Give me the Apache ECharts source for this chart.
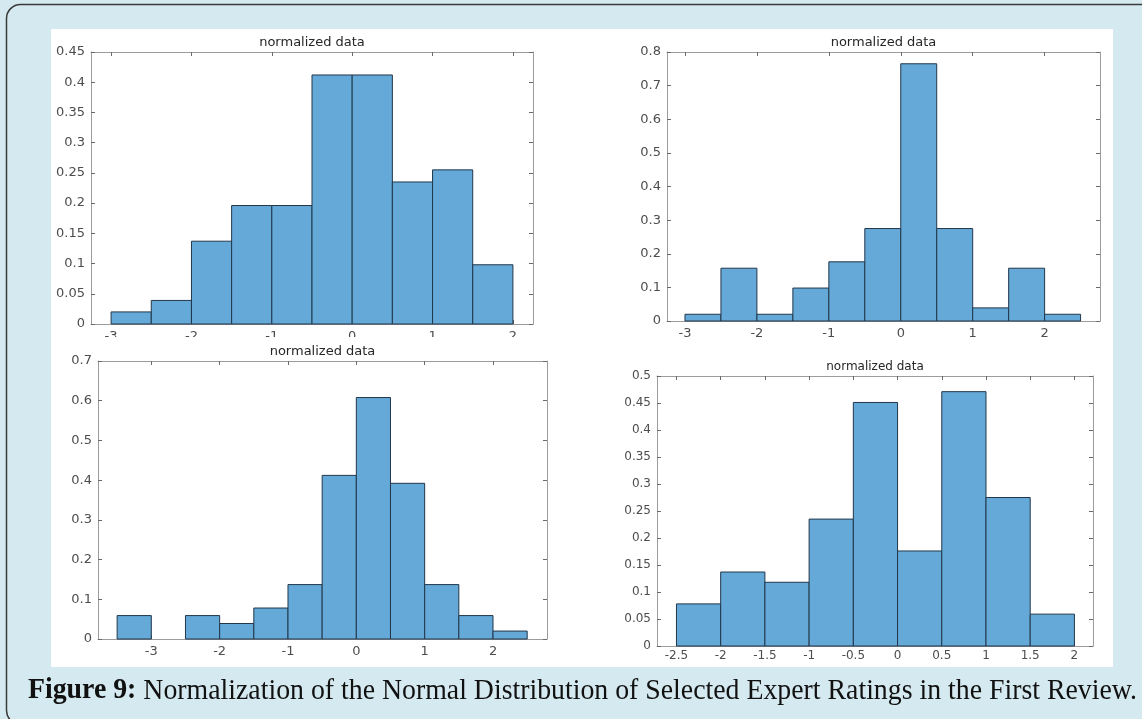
<!DOCTYPE html>
<html>
<head>
<meta charset="utf-8">
<script src="https://cdn.jsdelivr.net/npm/echarts@6/dist/echarts.min.js"></script>
<style>
  html, body { margin: 0; padding: 0; background: #d5eaf0; }
  #chart { width: 1142px; height: 719px; }
</style>
</head>
<body>
<div id="chart"></div>
<script>
// All four histograms use bins of the same width
const BIN_WIDTH = 0.5;

// Top left: probability density per bin
const binStartA = -3;
const densityA = [0.02, 0.039, 0.137, 0.196, 0.196, 0.412, 0.412, 0.235, 0.255, 0.098];
const xTicksA = [-3, -2, -1, 0, 1, 2];

// Top right
const binStartB = -3;
const densityB = [0.02, 0.157, 0.02, 0.098, 0.176, 0.275, 0.765, 0.275, 0.039, 0.157, 0.02];
const xTicksB = [-3, -2, -1, 0, 1, 2];

// Bottom left
const binStartC = -3.5;
const densityC = [0.059, 0, 0.059, 0.039, 0.078, 0.137, 0.412, 0.608, 0.392, 0.137, 0.059, 0.02];
const xTicksC = [-3, -2, -1, 0, 1, 2];

// Bottom right
const binStartD = -2.5;
const densityD = [0.078, 0.137, 0.118, 0.235, 0.451, 0.176, 0.471, 0.275, 0.059];
const xTicksD = [-2.5, -2, -1.5, -1, -0.5, 0, 0.5, 1, 1.5, 2];

const panelTitle = 'normalized data';
const captionLead = 'Figure 9:';
const captionRest = ' Normalization of the Normal Distribution of Selected Expert Ratings in the First Review.';

// ---- styling ----
const BAR_FILL = '#64a9d8';
const BAR_EDGE = '#22374a';
const BOX_COLOR = '#9c9c9c';
const TICK_COLOR = '#6a6a6a';
const LABEL_COLOR = '#4d4d4d';
const TITLE_COLOR = '#262626';
const UI_FONT = '"DejaVu Sans", sans-serif';
const CAPTION_FONT = '"Liberation Serif", serif';

const panels = [
  { start: binStartA, values: densityA, xTicks: xTicksA, xMin: -3.25, xMax: 2.25, yMax: 0.45, yStep: 0.05,
    box: { left: 91, top: 52, width: 442, height: 272 }, fontSize: 13, titleY: 43 },
  { start: binStartB, values: densityB, xTicks: xTicksB, xMin: -3.25, xMax: 2.77, yMax: 0.8, yStep: 0.1,
    box: { left: 667, top: 52, width: 433, height: 269 }, fontSize: 13, titleY: 43 },
  { start: binStartC, values: densityC, xTicks: xTicksC, xMin: -3.78, xMax: 2.79, yMax: 0.7, yStep: 0.1,
    box: { left: 98, top: 361, width: 449, height: 278 }, fontSize: 13, titleY: 352 },
  { start: binStartD, values: densityD, xTicks: xTicksD, xMin: -2.72, xMax: 2.21, yMax: 0.5, yStep: 0.05,
    box: { left: 657, top: 376, width: 436, height: 270 }, fontSize: 12, titleY: 367 }
];

const grids = [], xAxes = [], yAxes = [], series = [], graphics = [];

// Outer frame and white figure panel
graphics.push({
  type: 'rect', z: -20, silent: true,
  shape: { x: 6.5, y: 4.5, width: 1300, height: 720, r: 14 },
  style: { fill: '#d5eaf0', stroke: '#3a3a3a', lineWidth: 1.5 }
});
graphics.push({
  type: 'rect', z: -10, silent: true,
  shape: { x: 51, y: 29, width: 1062, height: 638 },
  style: { fill: '#ffffff' }
});

panels.forEach((p, i) => {
  grids.push({ left: p.box.left, top: p.box.top, width: p.box.width, height: p.box.height });
  const tickStyle = { show: true, inside: true, length: 4, lineStyle: { color: TICK_COLOR, width: 1 } };
  const lineStyle = { show: true, onZero: false, lineStyle: { color: BOX_COLOR, width: 1 } };
  const labelStyle = { color: LABEL_COLOR, fontSize: p.fontSize, fontFamily: UI_FONT };

  // bottom axis with labels, top axis mirrors ticks (boxed axes)
  xAxes.push({
    type: 'value', gridIndex: i, position: 'bottom', min: p.xMin, max: p.xMax,
    axisLine: lineStyle, splitLine: { show: false },
    axisTick: Object.assign({ customValues: p.xTicks }, tickStyle),
    axisLabel: Object.assign({ customValues: p.xTicks, margin: i === 3 ? 4 : 6 }, labelStyle)
  });
  xAxes.push({
    type: 'value', gridIndex: i, position: 'top', min: p.xMin, max: p.xMax,
    axisLine: lineStyle, splitLine: { show: false },
    axisTick: Object.assign({ customValues: p.xTicks }, tickStyle),
    axisLabel: { show: false }
  });
  yAxes.push({
    type: 'value', gridIndex: i, position: 'left', min: 0, max: p.yMax, interval: p.yStep,
    axisLine: lineStyle, splitLine: { show: false },
    axisTick: tickStyle,
    axisLabel: Object.assign({ margin: 6 }, labelStyle)
  });
  yAxes.push({
    type: 'value', gridIndex: i, position: 'right', min: 0, max: p.yMax, interval: p.yStep,
    axisLine: lineStyle, splitLine: { show: false },
    axisTick: tickStyle,
    axisLabel: { show: false }
  });

  series.push({
    type: 'custom',
    xAxisIndex: i * 2,
    yAxisIndex: i * 2,
    silent: true,
    z: 1,
    encode: { x: [0, 1], y: 2 },
    data: p.values.map((v, k) => [p.start + k * BIN_WIDTH, p.start + (k + 1) * BIN_WIDTH, v]),
    renderItem: function (params, api) {
      const v = api.value(2);
      if (!v) return null;
      const p0 = api.coord([api.value(0), 0]);
      const p1 = api.coord([api.value(1), v]);
      return {
        type: 'rect',
        shape: { x: p0[0], y: p1[1], width: p1[0] - p0[0], height: p0[1] - p1[1] },
        style: { fill: BAR_FILL, stroke: BAR_EDGE, lineWidth: 1 }
      };
    }
  });

  graphics.push({
    type: 'text', silent: true, z: 5,
    x: p.box.left + p.box.width / 2, y: p.titleY,
    style: {
      text: panelTitle, fill: TITLE_COLOR,
      font: p.fontSize + 'px ' + UI_FONT,
      align: 'center', verticalAlign: 'middle'
    }
  });
});

// The top-left panel's tick labels are cut off by the panel below it
graphics.push({
  type: 'rect', z: 100, silent: true,
  shape: { x: 60, y: 337, width: 500, height: 7.5 },
  style: { fill: '#ffffff' }
});

// Caption, scaled horizontally to span the figure width
const capSize = 29;
const leadFont = 'bold ' + capSize + 'px ' + CAPTION_FONT;
const restFont = capSize + 'px ' + CAPTION_FONT;
const ctx = document.createElement('canvas').getContext('2d');
ctx.font = leadFont;
const wLead = ctx.measureText(captionLead).width;
ctx.font = restFont;
const wRest = ctx.measureText(captionRest).width;
const capLeft = 28, capRight = 1137;
const capScale = (capRight - capLeft) / (wLead + wRest);
graphics.push({
  type: 'text', silent: true, x: capLeft, y: 691, scaleX: capScale,
  style: { text: captionLead, font: leadFont, fill: '#111111', align: 'left', verticalAlign: 'middle' }
});
graphics.push({
  type: 'text', silent: true, x: capLeft + wLead * capScale, y: 691, scaleX: capScale,
  style: { text: captionRest, font: restFont, fill: '#111111', align: 'left', verticalAlign: 'middle' }
});

const chart = echarts.init(document.getElementById('chart'), null, { renderer: 'canvas' });
chart.setOption({
  backgroundColor: '#d5eaf0',
  animation: false,
  grid: grids,
  xAxis: xAxes,
  yAxis: yAxes,
  series: series,
  graphic: graphics
});
</script>
</body>
</html>
